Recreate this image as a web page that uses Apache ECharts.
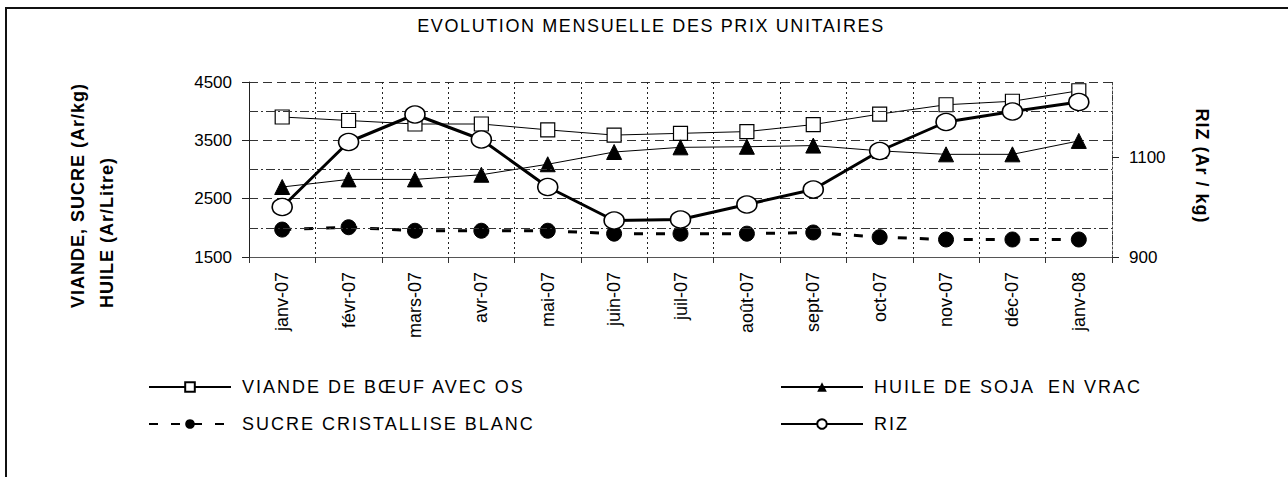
<!DOCTYPE html>
<html>
<head>
<meta charset="utf-8">
<script src="https://cdn.jsdelivr.net/npm/echarts@6/dist/echarts.min.js"></script>
<style>
html,body{margin:0;padding:0;background:#fff;}
#chart{width:1288px;height:477px;}
#chart svg text{font-family: "Liberation Sans", Arial, sans-serif !important;}
</style>
</head>
<body>
<div id="chart"></div>
<script>
const categories = ['janv-07','févr-07','mars-07','avr-07','mai-07','juin-07','juil-07','août-07','sept-07','oct-07','nov-07','déc-07','janv-08'];
const viande = [3900,3840,3780,3780,3680,3590,3620,3650,3770,3950,4110,4170,4350];
const huile = [2700,2830,2830,2910,3090,3300,3380,3390,3410,3320,3260,3260,3490];
const sucre = [1970,2010,1950,1950,1950,1900,1900,1900,1920,1840,1800,1800,1800];
const riz = [1000,1130,1185,1135,1040,973,975,1005,1035,1112,1170,1191,1210];
const leftTicks = [1500,2500,3500,4500];
const leftMinorGrid = [2000,3000,4000];
const rightTicks = [900,1100];
const names = ['VIANDE DE BŒUF AVEC OS','HUILE DE SOJA  EN VRAC','SUCRE CRISTALLISE BLANC','RIZ'];
const titleText = 'EVOLUTION MENSUELLE DES PRIX UNITAIRES';
const leftName1 = 'VIANDE, SUCRE (Ar/kg)';
const leftName2 = 'HUILE (Ar/Litre)';
const rightName = 'RIZ (Ar / kg)';

const FONT = 'Liberation Sans, Arial, sans-serif';
const chart = echarts.init(document.getElementById('chart'), null, {renderer: 'svg'});

const legendBase = {
  itemWidth: 82, itemHeight: 12, orient: 'horizontal', padding: 0,
  textStyle: {fontFamily: FONT, fontSize: 18, color: '#000', padding: [0,0,0,6]},
  selectedMode: false
};

chart.setOption({
  backgroundColor: '#fff',
  animation: false,
  title: {
    text: titleText, padding: 0,
    left: 651, top: 17, textAlign: 'center',
    textStyle: {fontFamily: FONT, fontSize: 18, fontWeight: 'normal', color: '#000'}
  },
  graphic: [
    {type: 'rect', shape: {x: 6, y: 8, width: 1400, height: 600}, style: {fill: 'none', stroke: '#111', lineWidth: 2}, silent: true},
    {type: 'text', x: 78, y: 308, rotation: Math.PI/2,
     style: {text: leftName1, fontFamily: FONT, fontSize: 18, fontWeight: 'bold', fill: '#000', textAlign: 'left', textVerticalAlign: 'middle'}},
    {type: 'text', x: 107, y: 308, rotation: Math.PI/2,
     style: {text: leftName2, fontFamily: FONT, fontSize: 18, fontWeight: 'bold', fill: '#000', textAlign: 'left', textVerticalAlign: 'middle'}},
    {type: 'text', x: 1202, y: 166, rotation: -Math.PI/2,
     style: {text: rightName, fontFamily: FONT, fontSize: 18, fontWeight: 'bold', fill: '#000', textAlign: 'center', textVerticalAlign: 'middle'}}
  ],
  legend: [
    Object.assign({data: [names[0]], left: 148, top: 378}, legendBase),
    Object.assign({data: [names[2]], left: 148, top: 415}, legendBase),
    Object.assign({data: [names[1]], left: 780, top: 378}, legendBase),
    Object.assign({data: [names[3]], left: 780, top: 415}, legendBase)
  ],
  grid: {left: 249, right: 176, top: 82, bottom: 220, containLabel: false},
  xAxis: {
    type: 'category', data: categories, boundaryGap: true,
    axisLine: {show: true, lineStyle: {color: '#555', width: 1}},
    axisTick: {show: true, length: 6, lineStyle: {color: '#333'}},
    axisLabel: {rotate: 90, margin: 15, fontFamily: FONT, fontSize: 18, color: '#000', interval: 0},
    splitLine: {show: true, lineStyle: {color: '#222', width: 1, type: [2,3]}}
  },
  yAxis: [
    {
      type: 'value', position: 'left', min: 1500, max: 4500, interval: 1000,
      axisLine: {show: true, lineStyle: {color: '#222', width: 1}},
      axisTick: {show: true, length: 7, lineStyle: {color: '#222'}, customValues: leftTicks},
      axisLabel: {margin: 17, fontFamily: FONT, fontSize: 17, color: '#000', customValues: leftTicks, formatter: v => String(v)},
      splitLine: {show: true, lineStyle: {color: '#333', width: 1, type: [9,5]}}
    },
    {
      type: 'value', position: 'right', min: 900, max: 1250, interval: 200,
      axisLine: {show: true, lineStyle: {color: '#444', width: 1, type: [2,2]}},
      axisTick: {show: true, length: 7, lineStyle: {color: '#222', type: 'solid'}, customValues: rightTicks},
      axisLabel: {margin: 17, fontFamily: FONT, fontSize: 17, color: '#000', customValues: rightTicks, formatter: v => String(v)},
      splitLine: {show: false}
    }
  ],
  series: [
    {
      name: names[0], type: 'line', yAxisIndex: 0, data: viande,
      symbol: 'rect', symbolSize: 14, z: 3,
      lineStyle: {color: '#000', width: 1},
      itemStyle: {color: '#fff', borderColor: '#000', borderWidth: 1.2},
      markLine: {
        silent: true, symbol: ['none','none'], label: {show: false}, animation: false,
        lineStyle: {color: '#333', width: 1, type: [9,3,2,3]},
        emphasis: {disabled: true},
        data: leftMinorGrid.map(v => ({yAxis: v}))
      }
    },
    {
      name: names[1], type: 'line', yAxisIndex: 0, data: huile,
      symbol: 'triangle', symbolSize: 15, z: 4,
      lineStyle: {color: '#000', width: 1},
      itemStyle: {color: '#000', borderColor: '#000'}
    },
    {
      name: names[2], type: 'line', yAxisIndex: 0, data: sucre,
      symbol: 'circle', symbolSize: 15, z: 4,
      lineStyle: {color: '#000', width: 3, type: [9,13]},
      itemStyle: {color: '#000', borderColor: '#000'}
    },
    {
      name: names[3], type: 'line', yAxisIndex: 1, data: riz,
      symbol: 'circle', symbolSize: [20,17], z: 5,
      lineStyle: {color: '#000', width: 3},
      itemStyle: {color: '#fff', borderColor: '#000', borderWidth: 1.5}
    }
  ]
});

// wider letter spacing, as in the reference rendering
const spacing = {};
spacing[titleText] = '1.6px';
names.forEach(n => { spacing[n] = '2px'; });
spacing[leftName1] = '1px';
spacing[leftName2] = '1px';
spacing[rightName] = '1px';
document.querySelectorAll('#chart svg text').forEach(t => {
  const s = t.textContent;
  if (spacing[s]) t.style.letterSpacing = spacing[s];
});
</script>
</body>
</html>
